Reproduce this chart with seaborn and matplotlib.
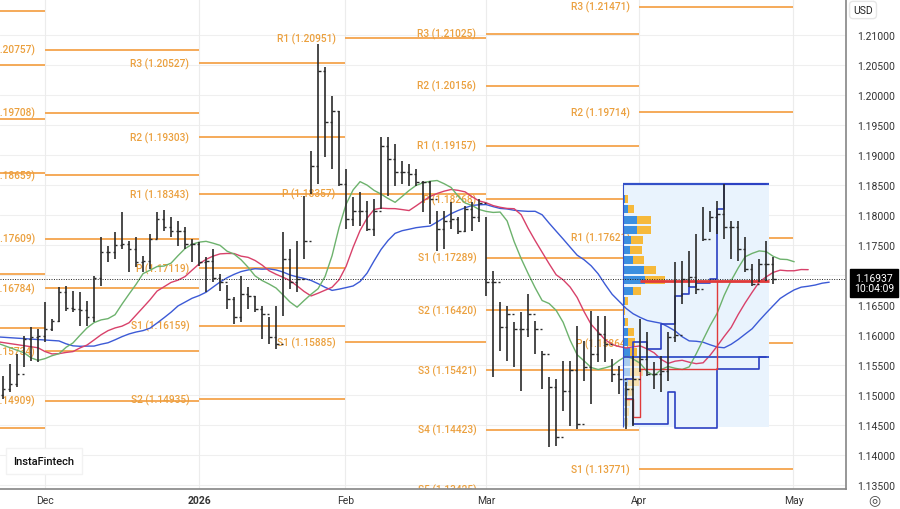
import numpy as np
import pandas as pd
import matplotlib
matplotlib.use("Agg")
import matplotlib.pyplot as plt
import seaborn as sns

# ---------------- data ----------------
highs = [1.15317,1.15517,1.15683,1.15983,1.16133,1.16100,1.16550,1.16267,1.16800,1.16817,
         1.16733,1.16717,1.16567,1.16983,1.17633,1.17483,1.17717,1.18050,1.17567,1.17633,
         1.17317,1.17683,1.18050,1.18083,1.17967,1.17900,1.17800,1.17600,1.17550,1.17300,
         1.17433,1.17017,1.16833,1.16633,1.16983,1.16800,1.16650,1.16483,1.16300,1.16483,
         1.17717,1.17433,1.17567,1.18317,1.19067,1.20850,1.20467,1.19983,1.19733,1.18767,
         1.18300,1.18383,1.18233,1.18267,1.19300,1.19300,1.19183,1.18900,1.18850,1.18767,
         1.18567,1.18567,1.18067,1.18067,1.18217,1.17967,1.18150,1.18217,1.18267,1.17967,
         1.17067,1.16550,1.16483,1.16217,1.16383,1.16683,1.16233,1.15733,1.15300,1.15267,
         1.15567,1.15567,1.16150,1.15900,1.16400,1.16317,1.16317,1.15600,1.15483,1.15217,
         1.15650,1.16267,1.16050,1.15550,1.15650,1.16050,1.17217,1.17233,1.17400,1.17683,
         1.18133,1.18067,1.18233,1.18517,1.17900,1.17900,1.17633,1.17183,1.17267,1.17567,
         1.17300]
lows = [1.14933,1.15050,1.15133,1.15467,1.15567,1.15550,1.15883,1.16067,1.16217,1.16400,
        1.16383,1.16150,1.16150,1.16217,1.16817,1.17217,1.17267,1.17433,1.17050,1.17133,
        1.17050,1.17100,1.17600,1.17733,1.17633,1.17483,1.17433,1.17217,1.17150,1.16717,
        1.16883,1.16733,1.16433,1.16183,1.16217,1.16433,1.16383,1.15933,1.15850,1.15767,
        1.16317,1.16767,1.16717,1.17267,1.18350,1.18517,1.18967,1.18767,1.18483,1.17767,
        1.17817,1.17817,1.17733,1.17650,1.18100,1.18317,1.18483,1.18517,1.18483,1.18483,
        1.18050,1.17850,1.17400,1.17433,1.17767,1.17683,1.17717,1.17733,1.17883,1.16650,
        1.15300,1.15733,1.15567,1.15467,1.15067,1.15967,1.15683,1.15100,1.14133,1.14150,
        1.14733,1.14483,1.14433,1.15233,1.14850,1.15550,1.15550,1.15217,1.15017,1.14433,
        1.14483,1.15383,1.15317,1.15100,1.15050,1.15233,1.15883,1.16517,1.16800,1.16683,
        1.17567,1.17717,1.17683,1.17600,1.17267,1.17233,1.17050,1.16817,1.16883,1.16900,
        1.16850]
closes = [1.15100,1.15183,1.15350,1.15933,1.15967,1.15983,1.16100,1.16233,1.16717,1.16450,
          1.16433,1.16417,1.16300,1.16950,1.17383,1.17383,1.17500,1.17517,1.17433,1.17217,
          1.17233,1.17600,1.17933,1.17800,1.17733,1.17733,1.17517,1.17517,1.17217,1.17233,
          1.16950,1.16883,1.16600,1.16300,1.16683,1.16650,1.16433,1.16350,1.15967,1.15850,
          1.17267,1.16883,1.16933,1.17567,1.18817,1.20400,1.19550,1.19733,1.18517,1.17933,
          1.18067,1.18067,1.17767,1.18067,1.19150,1.18933,1.18717,1.18717,1.18683,1.18550,
          1.18550,1.18267,1.17767,1.17900,1.17933,1.17733,1.18100,1.17967,1.18200,1.16883,
          1.16883,1.16133,1.16350,1.16100,1.16100,1.16350,1.16100,1.15683,1.15133,1.14300,
          1.15067,1.15417,1.14517,1.15467,1.15683,1.16017,1.15850,1.15350,1.15267,1.15100,
          1.15267,1.15600,1.15350,1.15350,1.15400,1.15967,1.16000,1.16933,1.16967,1.16767,
          1.17600,1.17967,1.18017,1.17800,1.17800,1.17433,1.17100,1.16850,1.17183,1.17183,
          1.16937]
opens = [1.15000] + closes[:-1]

month_labels = ["Dec", "2026", "Feb", "Mar", "Apr", "May"]
month_pos = [6, 28, 48.9, 69, 90.9, 112.9]

# pivot levels per month segment
piv_nov = [("R3", 1.21400), ("R2", 1.20500), ("R1", 1.19600), ("P", 1.18700),
           ("S1", 1.17017), ("S2", 1.16117), ("S3", 1.14450)]
piv_dec = [("R3", 1.20757), ("R2", 1.19708), ("R1", 1.18659), ("P", 1.17609),
           ("S1", 1.16784), ("S2", 1.15734), ("S3", 1.14909)]
piv_jan = [("R3", 1.20527), ("R2", 1.19303), ("R1", 1.18343), ("P", 1.17119),
           ("S1", 1.16159), ("S2", 1.14935)]
piv_feb = [("R1", 1.20951), ("P", 1.18357), ("S1", 1.15885)]
piv_mar = [("R3", 1.21025), ("R2", 1.20156), ("R1", 1.19157), ("P", 1.18268),
           ("S1", 1.17289), ("S2", 1.16420), ("S3", 1.15421), ("S4", 1.14423), ("S5", 1.13425)]
piv_apr = [("R3", 1.21471), ("R2", 1.19714), ("R1", 1.17621), ("P", 1.15864), ("S1", 1.13771)]

# volume profile
prof_price = [1.18267,1.18100,1.17917,1.17750,1.17583,1.17417,1.17250,1.17083,1.16917,1.16733,
              1.16567,1.16400,1.16217,1.16050,1.15883,1.15717,1.15550,1.15383,1.15217,1.15050,
              1.14883,1.14717,1.14550]
prof_buy = [0.3,0.6,2.0,2.0,1.1,1.0,1.4,2.9,3.1,1.4,0.3,0.1,0.3,0.6,0.7,0.9,0.9,0.9,0.6,0.6,0.4,0.4,0.3]
prof_sell = [0.3,0.9,2.0,1.9,1.7,1.7,1.6,1.7,2.9,1.1,0.4,0.1,0.3,0.9,0.9,1.0,1.6,1.9,1.6,0.9,0.6,0.4,0.3]
prof_start, prof_end = 88.6, 109.4
prof_top, prof_bottom = 1.18517, 1.14467
prof_poc, prof_val = 1.16900, 1.15633
dev_idx = list(range(89, 110))
dev_vah = [1.15267,1.15883,1.15883,1.15767,1.15767,1.16183,1.16183,1.16650,1.16683,1.16800,
           1.16867,1.16867,1.16933,1.18100,1.18517,1.18517,1.18517,1.18517,1.18517,1.18517,1.18517]
dev_val = [1.14933,1.14517,1.14517,1.14517,1.14517,1.14517,1.15050,1.14450,1.14450,1.14450,
           1.14450,1.14450,1.14450,1.15433,1.15433,1.15433,1.15433,1.15433,1.15433,1.15633,1.15633]
dev_poc = [1.14933,1.14633,1.15433,1.15433,1.15433,1.15433,1.15433,1.15433,1.15433,1.15433,
           1.15433,1.15433,1.15433,1.16900,1.16900,1.16900,1.16900,1.16900,1.16900,1.16900,1.16900]

# Alligator: (period, shift, colour, value at left edge of chart)
alligator = [(13, 8, "#3c5ad6", 1.15967), (8, 5, "#d8416a", 1.15883), (5, 3, "#6db26d", 1.15850)]

last_price = 1.16937
price_ticks = [1.135, 1.14, 1.145, 1.15, 1.155, 1.16, 1.165, 1.17, 1.175, 1.18,
               1.185, 1.19, 1.195, 1.20, 1.205, 1.21]

# ---------------- plot ----------------
sns.set_theme(style="white")
plt.rcParams['font.family'] = ['Roboto', 'DejaVu Sans']

fig = plt.figure(figsize=(9, 5.1), dpi=100)
ax = fig.add_axes([0, 0.039, 0.94, 0.961])
xmin, xmax = -0.43, 120.4
ax.set_xlim(xmin, xmax)
ax.set_ylim(1.13433, 1.216)

for t in price_ticks:
    ax.axhline(t, color="#efefef", lw=0.8, zorder=0)
for m in month_pos:
    ax.axvline(m, color="#ececec", lw=0.8, zorder=0)

orange_line = "#f4a44c"
orange_txt = "#eba03e"
segments = [(xmin, 6, piv_nov, False), (6, 28, piv_dec, True), (28, 48.9, piv_jan, True),
            (48.9, 69, piv_feb, True), (69, 90.9, piv_mar, True), (90.9, 112.9, piv_apr, True)]
for s, e, levels, show in segments:
    for name, v in levels:
        ax.hlines(v, s, e, color=orange_line, lw=1.3, zorder=1)
        if show:
            ax.text(s - 1.4, v, f"{name} ({v:.5f})", ha="right", va="center",
                    fontsize=7.3, color=orange_txt, fontweight="medium", clip_on=True, zorder=2)

# volume profile
ax.fill_between([prof_start, prof_end], prof_bottom, prof_top, color="#e9f3fd", zorder=1.5, lw=0)
ax.hlines(prof_top, prof_start, prof_end, color="#3350c8", lw=1.6, zorder=4)
ax.hlines(prof_val, prof_start, prof_end, color="#3350c8", lw=1.3, zorder=4)
ax.vlines(prof_start, prof_bottom, prof_top, color="#3350c8", lw=0.8, zorder=4)
for p, b, s_ in zip(prof_price, prof_buy, prof_sell):
    pale = p < 1.1560 or (1.1640 < p < 1.1645)
    ax.barh(p, b, left=prof_start, height=0.00145,
            color="#a9cdf0" if pale else "#3b8fe0", zorder=3, lw=0)
    ax.barh(p, s_, left=prof_start + b, height=0.00145,
            color="#f6e0b0" if pale else "#f6b93b", zorder=3, lw=0)
ax.step(dev_idx, dev_vah, where="post", color="#2b3fc2", lw=1.2, zorder=4)
ax.step(dev_idx, dev_val, where="post", color="#2b3fc2", lw=1.2, zorder=4)
ax.step(dev_idx, dev_poc, where="post", color="#e03a3a", lw=1.0, zorder=4)
ax.hlines(prof_poc, 91, prof_end, color="#e03a3a", lw=2.0, zorder=4)

# Alligator (smoothed moving averages of median price, shifted forward)
df = pd.DataFrame({"high": highs, "low": lows, "open": opens, "close": closes})
df["idx"] = np.arange(len(df))
med = ((df["high"] + df["low"]) / 2).to_numpy()
for n, sh, col, seed in alligator:
    vals = [seed]
    for m_ in med:
        vals.append(vals[-1] + (m_ - vals[-1]) / n)
    xs = np.concatenate([[xmin], df["idx"].to_numpy() + sh])
    sns.lineplot(x=xs, y=np.array(vals), ax=ax, color=col, lw=1.0, zorder=3.5,
                 estimator=None, sort=False)

# OHLC bars
bar_c = "#2a2a2a"
ax.vlines(df["idx"], df["low"], df["high"], color=bar_c, lw=1.2, zorder=5)
ax.hlines(df["open"], df["idx"] - 0.35, df["idx"], color=bar_c, lw=1.0, zorder=5)
ax.hlines(df["close"], df["idx"], df["idx"] + 0.35, color=bar_c, lw=1.0, zorder=5)

ax.axhline(last_price, color="#222222", lw=0.7, ls=(0, (1, 1.5)), zorder=6)

ax.set_xlabel("")
ax.set_ylabel("")
ax.set_xticks(month_pos)
ax.set_xticklabels(month_labels, fontsize=7.5, color="#333333")
ax.get_xticklabels()[1].set_fontweight("bold")
ax.tick_params(axis="x", length=0, pad=4)
ax.yaxis.tick_right()
ax.set_yticks(price_ticks)
ax.set_yticklabels(["" if abs(t - 1.17) < 1e-9 else f"{t:.5f}" for t in price_ticks],
                   fontsize=7.5, color="#333333")
ax.tick_params(axis="y", length=0, pad=8)
for sp in ["top", "left"]:
    ax.spines[sp].set_visible(False)
ax.spines["bottom"].set_color("#8a8a8a")
ax.spines["right"].set_color("#8a8a8a")

# price label and chrome
fig.text(0.971, 1 - 284 / 510, "1.16937\n10:04:09", ha="center", va="center",
         fontsize=7.5, color="white", linespacing=1.1,
         bbox=dict(boxstyle="square,pad=0.35", fc="black", ec="black"))
fig.text(0.948, 1 - 11 / 510, "USD", ha="left", va="center", fontsize=7.5, color="#222",
         bbox=dict(boxstyle="round,pad=0.35", fc="white", ec="#e6e6e6"))
fig.text(0.971, 1 - 500 / 510, "◎", ha="center", va="center", fontsize=10, color="#444",
         family=["DejaVu Sans"])
fig.text(0.015, 1 - 462 / 510, "InstaFintech", ha="left", va="center", fontsize=8,
         color="#111", fontweight="medium",
         bbox=dict(boxstyle="square,pad=0.7", fc="white", ec="#f2f2f2"))

fig.savefig("out.png", dpi=100)
